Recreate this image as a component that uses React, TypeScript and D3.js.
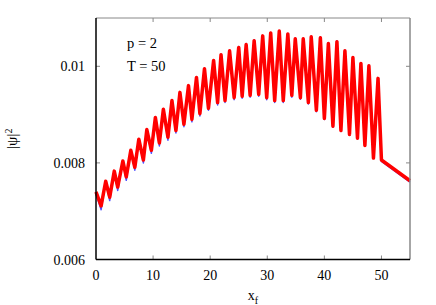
import { useRef, useEffect } from "react";
import * as d3 from "d3";

// x_f positions of the sampled peaks / troughs
const xf = [
  0.0, 0.9, 1.7, 2.4, 3.2, 3.8, 4.7, 5.3, 6.1, 6.8, 7.5, 8.3, 8.9, 9.7, 10.4,
  11.1, 11.8, 12.6, 13.3, 14.0, 14.7, 15.4, 16.2, 16.8, 17.6, 18.2, 19.0, 19.7,
  20.6, 21.3, 21.9, 22.6, 23.4, 24.2, 25.0, 25.6, 26.3, 27.0, 27.7, 28.5, 29.2,
  29.9, 30.6, 31.3, 32.1, 32.8, 33.6, 34.3, 34.9, 35.8, 36.3, 37.2, 37.7, 38.6,
  39.3, 40.0, 40.7, 41.5, 42.2, 42.9, 43.6, 44.4, 45.0, 45.8, 46.4, 47.1, 47.8,
  48.6, 49.4, 50.0, 55.0,
];

const redPsi = [
  0.0074, 0.00711, 0.00762, 0.00729, 0.00783, 0.0075, 0.00804, 0.00771,
  0.00826, 0.00791, 0.00849, 0.00806, 0.00869, 0.00826, 0.00894, 0.00841,
  0.00911, 0.00853, 0.00929, 0.00867, 0.00946, 0.0088, 0.0096, 0.0089,
  0.00977, 0.00902, 0.00995, 0.00913, 0.01012, 0.00925, 0.01024, 0.00929,
  0.01032, 0.00935, 0.01039, 0.00938, 0.01045, 0.0094, 0.01053, 0.00942,
  0.01063, 0.00935, 0.01069, 0.00929, 0.01073, 0.00929, 0.01067, 0.0094,
  0.01057, 0.00935, 0.01057, 0.00925, 0.01061, 0.00909, 0.01059, 0.00892,
  0.01047, 0.00876, 0.01051, 0.00867, 0.01032, 0.00859, 0.01018, 0.00851,
  0.01006, 0.00836, 0.01001, 0.0081, 0.00975, 0.00806, 0.00763,
];

const bluePsi = [
  0.00736, 0.00703, 0.00761, 0.00722, 0.00782, 0.00743, 0.00803, 0.00764,
  0.00825, 0.00785, 0.00848, 0.008, 0.00868, 0.0082, 0.00893, 0.00835,
  0.0091, 0.00847, 0.00928, 0.00862, 0.00945, 0.00875, 0.0096, 0.00885,
  0.00977, 0.00897, 0.00996, 0.00909, 0.01013, 0.0092, 0.01025, 0.00925,
  0.01033, 0.00931, 0.01041, 0.00934, 0.01047, 0.00936, 0.01055, 0.00938,
  0.01064, 0.00931, 0.0107, 0.00925, 0.01073, 0.00925, 0.01068, 0.00936,
  0.01058, 0.00932, 0.01058, 0.00922, 0.01062, 0.00906, 0.01061, 0.0089,
  0.01049, 0.00874, 0.01053, 0.00865, 0.01033, 0.00857, 0.01019, 0.0085,
  0.01007, 0.00835, 0.01002, 0.00809, 0.00975, 0.00803, 0.0076,
];

const xTicks = [0, 10, 20, 30, 40, 50];
const yTicks = [0.006, 0.008, 0.01];
const yTickLabels = ["0.006", "0.008", "0.01"];
const labels = ["p = 2", "T = 50"];

export default function App() {
  const svgRef = useRef<SVGSVGElement | null>(null);

  useEffect(() => {
    const width = 436;
    const height = 305;
    const svg = d3.select(svgRef.current);
    svg.selectAll("*").remove();
    svg.attr("width", width).attr("height", height);

    const left = 96;
    const right = 410;
    const top = 18;
    const bottom = 259.5;

    const x = d3.scaleLinear().domain([0, 55]).range([left, right]);
    const y = d3.scaleLinear().domain([0.006, 0.011]).range([bottom, top]);
    const font = "'Liberation Serif', 'DejaVu Serif', serif";

    // data
    const pts = (ys: number[]) => xf.map((v, i) => [v, ys[i]] as [number, number]);
    const line = d3
      .line<[number, number]>()
      .x((d) => x(d[0]))
      .y((d) => y(d[1]));

    svg
      .append("path")
      .attr("d", line(pts(bluePsi)))
      .attr("fill", "none")
      .attr("stroke", "#4d4dff")
      .attr("stroke-width", 1.5)
      .attr("stroke-linejoin", "round");

    svg
      .append("path")
      .attr("d", line(pts(redPsi)))
      .attr("fill", "none")
      .attr("stroke", "#ff0000")
      .attr("stroke-width", 3.5)
      .attr("stroke-linejoin", "round");

    // frame
    const gray = "#888";
    svg.append("line").attr("x1", left).attr("x2", right).attr("y1", top).attr("y2", top).attr("stroke", gray);
    svg.append("line").attr("x1", right).attr("x2", right).attr("y1", top).attr("y2", bottom).attr("stroke", gray).attr("stroke-width", 1.5);

    const tl = 4;
    xTicks.slice(1).forEach((t) => {
      svg.append("line").attr("x1", x(t)).attr("x2", x(t)).attr("y1", bottom).attr("y2", bottom - tl).attr("stroke", gray);
      svg.append("line").attr("x1", x(t)).attr("x2", x(t)).attr("y1", top).attr("y2", top + tl).attr("stroke", gray);
    });
    yTicks.slice(1).forEach((t) => {
      svg.append("line").attr("x1", left).attr("x2", left + tl).attr("y1", y(t)).attr("y2", y(t)).attr("stroke", gray);
      svg.append("line").attr("x1", right).attr("x2", right - tl).attr("y1", y(t)).attr("y2", y(t)).attr("stroke", gray);
    });

    svg.append("line").attr("x1", left).attr("x2", left).attr("y1", top).attr("y2", bottom).attr("stroke", "#000").attr("stroke-width", 1.5);
    svg.append("line").attr("x1", left).attr("x2", right).attr("y1", bottom).attr("y2", bottom).attr("stroke", "#000").attr("stroke-width", 1.5);

    // tick labels
    svg
      .selectAll(".xl")
      .data(xTicks)
      .join("text")
      .attr("x", (d) => x(d))
      .attr("y", 280)
      .attr("text-anchor", "middle")
      .style("font-family", font)
      .style("font-size", "14px")
      .text((d) => d);

    svg
      .selectAll(".yl")
      .data(yTicks)
      .join("text")
      .attr("x", 85)
      .attr("y", (d) => y(d) + 5)
      .attr("text-anchor", "end")
      .style("font-family", font)
      .style("font-size", "14px")
      .text((_, i) => yTickLabels[i]);

    // annotations
    labels.forEach((s, i) => {
      svg
        .append("text")
        .attr("x", 127)
        .attr("y", 48 + i * 23)
        .style("font-family", font)
        .style("font-size", "14.5px")
        .text(s);
    });

    // axis titles
    const xt = svg
      .append("text")
      .attr("x", 253)
      .attr("y", 300)
      .attr("text-anchor", "middle")
      .style("font-family", font)
      .style("font-size", "14px");
    xt.append("tspan").text("x");
    xt.append("tspan").attr("dy", 4).style("font-size", "10px").text("f");

    const yt = svg
      .append("text")
      .attr("transform", `translate(17,${(top + bottom) / 2}) rotate(-90)`)
      .attr("text-anchor", "middle")
      .style("font-family", font)
      .style("font-size", "15px");
    yt.append("tspan").text("|ψ|");
    yt.append("tspan").attr("dy", -5).style("font-size", "10px").text("2");
  }, []);

  return (
    <svg
      ref={svgRef}
      style={{ position: "absolute", top: 0, left: 0, background: "#fff" }}
    />
  );
}
